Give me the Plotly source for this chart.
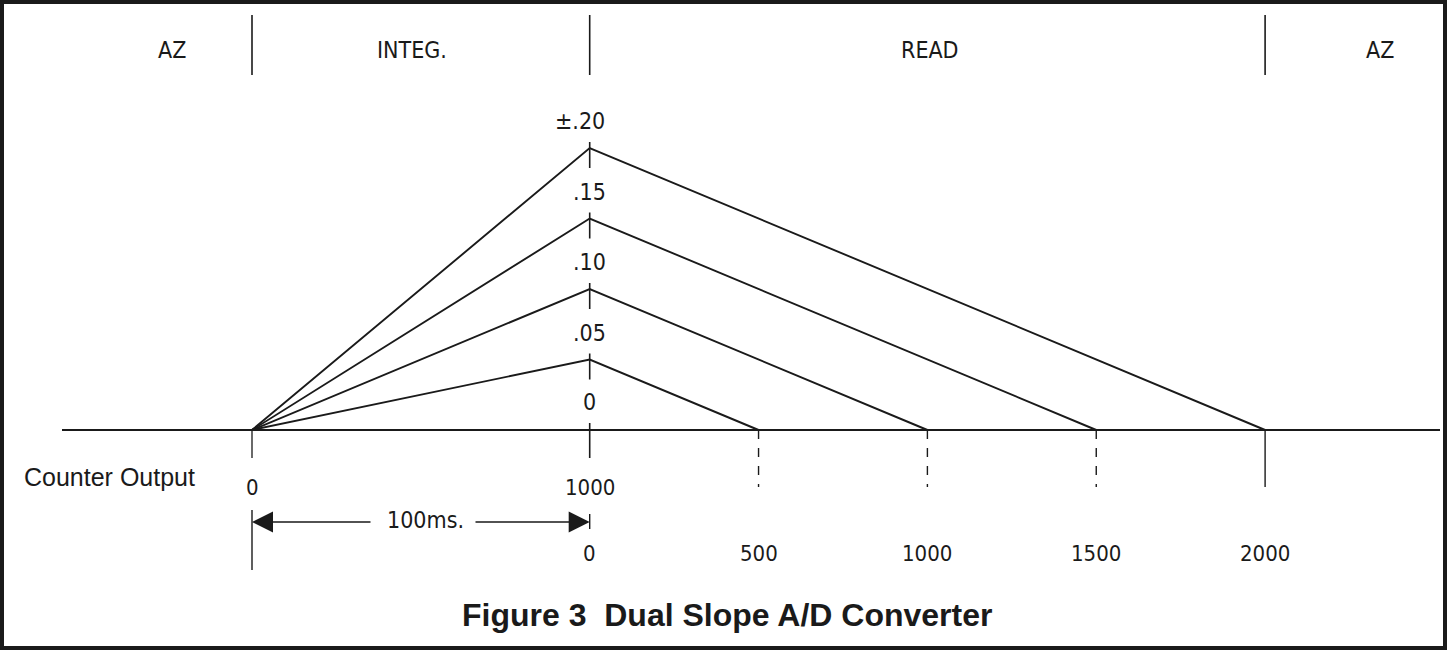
import plotly.graph_objects as go

# ---------------- data ----------------
phase_labels = ["AZ", "INTEG.", "READ", "AZ"]
integ_counts = [0, 1000]                 # integration phase: counter 0 -> 1000
input_levels = [0.05, 0.10, 0.15, 0.20]  # input voltage levels (integrator peaks)
level_labels = [".05", ".10", ".15", "±.20"]
zero_label = "0"
read_counts = [500, 1000, 1500, 2000]    # de-integration counts for each level
read_tick_values = [0, 500, 1000, 1500, 2000]
read_tick_labels = ["0", "500", "1000", "1500", "2000"]
counter_tick_values = [0, 1000]
counter_tick_labels = ["0", "1000"]
period_label = "100ms."
title_text = "Figure 3  Dual Slope A/D Converter"

# ---------------- layout geometry ----------------
W, H = 1447, 650
X0_PX = 252.0          # pixel of counter 0
PX_PER_COUNT = 0.3377
Y0_PX = 430.0          # pixel of baseline
PX_PER_V = 1410.0

xr = [-X0_PX / PX_PER_COUNT, (W - X0_PX) / PX_PER_COUNT]
yr = [-(H - Y0_PX) / PX_PER_V, Y0_PX / PX_PER_V]

def px(p):   # pixel x -> paper
    return p / W

def py(p):   # pixel y (from top) -> paper
    return 1 - p / H

def dx(p):   # pixel x -> data x
    return (p - X0_PX) / PX_PER_COUNT

PLOT_FONT = "DejaVu Sans Condensed, DejaVu Sans, sans-serif"
INK = "#1a1a1a"

fig = go.Figure()

integ_end = integ_counts[1]
for v, r in zip(input_levels, read_counts):
    fig.add_trace(go.Scatter(
        x=[integ_counts[0], integ_end, integ_end + r],
        y=[0, v, 0],
        mode="lines",
        line=dict(color=INK, width=1.9),
        hoverinfo="skip",
        showlegend=False,
    ))

shapes = []
annotations = []

def label(text, x, y, xref="paper", yref="paper", size=22, family=PLOT_FONT, **kw):
    d = dict(text=text, x=x, y=y, xref=xref, yref=yref, showarrow=False,
             xanchor="center", yanchor="middle",
             font=dict(family=family, size=size, color=INK))
    d.update(kw)
    annotations.append(d)

# outer frame
shapes.append(dict(type="rect", xref="paper", yref="paper",
                   x0=px(2), x1=px(W - 2), y0=py(H - 2), y1=py(2),
                   line=dict(color=INK, width=4)))

# header dividers
header_div_x = [integ_counts[0], integ_end, integ_end + read_counts[-1]]
for xv in header_div_x:
    shapes.append(dict(type="line", xref="x", yref="paper",
                       x0=xv, x1=xv, y0=py(15), y1=py(75),
                       line=dict(color=INK, width=1.6)))
header_label_px = [172, 412, 930, 1380]
for lab, xp in zip(phase_labels, header_label_px):
    label(lab, px(xp), py(50), size=23)

# baseline
shapes.append(dict(type="line", xref="paper", yref="y",
                   x0=px(62), x1=px(1440), y0=0, y1=0,
                   line=dict(color=INK, width=1.9)))

# centre axis ticks at each peak
for v in input_levels:
    shapes.append(dict(type="line", xref="x", yref="y",
                       ysizemode="pixel", yanchor=v,
                       x0=integ_end, x1=integ_end, y0=6, y1=-20,
                       line=dict(color=INK, width=1.6)))
shapes.append(dict(type="line", xref="x", yref="y",
                   ysizemode="pixel", yanchor=0,
                   x0=integ_end, x1=integ_end, y0=7, y1=-28,
                   line=dict(color=INK, width=1.6)))
# tick at counter 0
shapes.append(dict(type="line", xref="x", yref="y",
                   ysizemode="pixel", yanchor=0,
                   x0=0, x1=0, y0=0, y1=-28,
                   line=dict(color=INK, width=1.3)))

# read end markers
for i, r in enumerate(read_counts):
    xv = integ_end + r
    shapes.append(dict(type="line", xref="x", yref="y",
                       ysizemode="pixel", yanchor=0,
                       x0=xv, x1=xv, y0=0, y1=-57,
                       line=dict(color=INK, width=1.4,
                                 dash="solid" if i == len(read_counts) - 1 else "dash")))

# level labels
for v, lab in zip(input_levels, level_labels):
    label(lab, integ_end, v, xref="x", yref="y", size=23,
          yshift=27, xshift=-10 if lab.startswith("±") else 0)
label(zero_label, integ_end, 0, xref="x", yref="y", size=23, yshift=28)

# counter output labels
for xv, lab in zip(counter_tick_values, counter_tick_labels):
    label(lab, xv, py(487), xref="x", size=22)
label("Counter Output", px(22), py(477), size=25, xanchor="left",
      family="Liberation Sans, Arial, sans-serif")

# read count labels
for xv, lab in zip(read_tick_values, read_tick_labels):
    label(lab, integ_end + xv, py(553), xref="x", size=22)

# 100 ms dimension arrow
shapes.append(dict(type="line", xref="x", yref="paper", x0=0, x1=0,
                   y0=py(510), y1=py(570), line=dict(color=INK, width=1.4)))
shapes.append(dict(type="line", xref="x", yref="paper", x0=integ_end, x1=integ_end,
                   y0=py(514), y1=py(529), line=dict(color=INK, width=1.4)))
annotations.append(dict(text="", x=0, y=py(522), xref="x", yref="paper",
                        ax=dx(372), ay=0, axref="x", ayref="pixel",
                        showarrow=True, arrowhead=2, arrowsize=3,
                        arrowwidth=1.4, arrowcolor=INK))
annotations.append(dict(text="", x=integ_end, y=py(522), xref="x", yref="paper",
                        ax=dx(474), ay=0, axref="x", ayref="pixel",
                        showarrow=True, arrowhead=2, arrowsize=3,
                        arrowwidth=1.4, arrowcolor=INK))
label(period_label, dx(425), py(520), xref="x", size=23)

# title
label("<b>" + title_text + "</b>", px(727), py(615), size=32,
      family="Liberation Sans, Arial, sans-serif")

fig.update_layout(
    width=W, height=H,
    margin=dict(l=0, r=0, t=0, b=0),
    paper_bgcolor="white", plot_bgcolor="white",
    xaxis=dict(range=xr, visible=False, fixedrange=True),
    yaxis=dict(range=yr, visible=False, fixedrange=True),
    shapes=shapes, annotations=annotations,
    showlegend=False,
)

fig.write_html("out.html", config={"displayModeBar": False},
               post_script="document.body.style.margin='0';document.body.style.overflow='hidden';")
